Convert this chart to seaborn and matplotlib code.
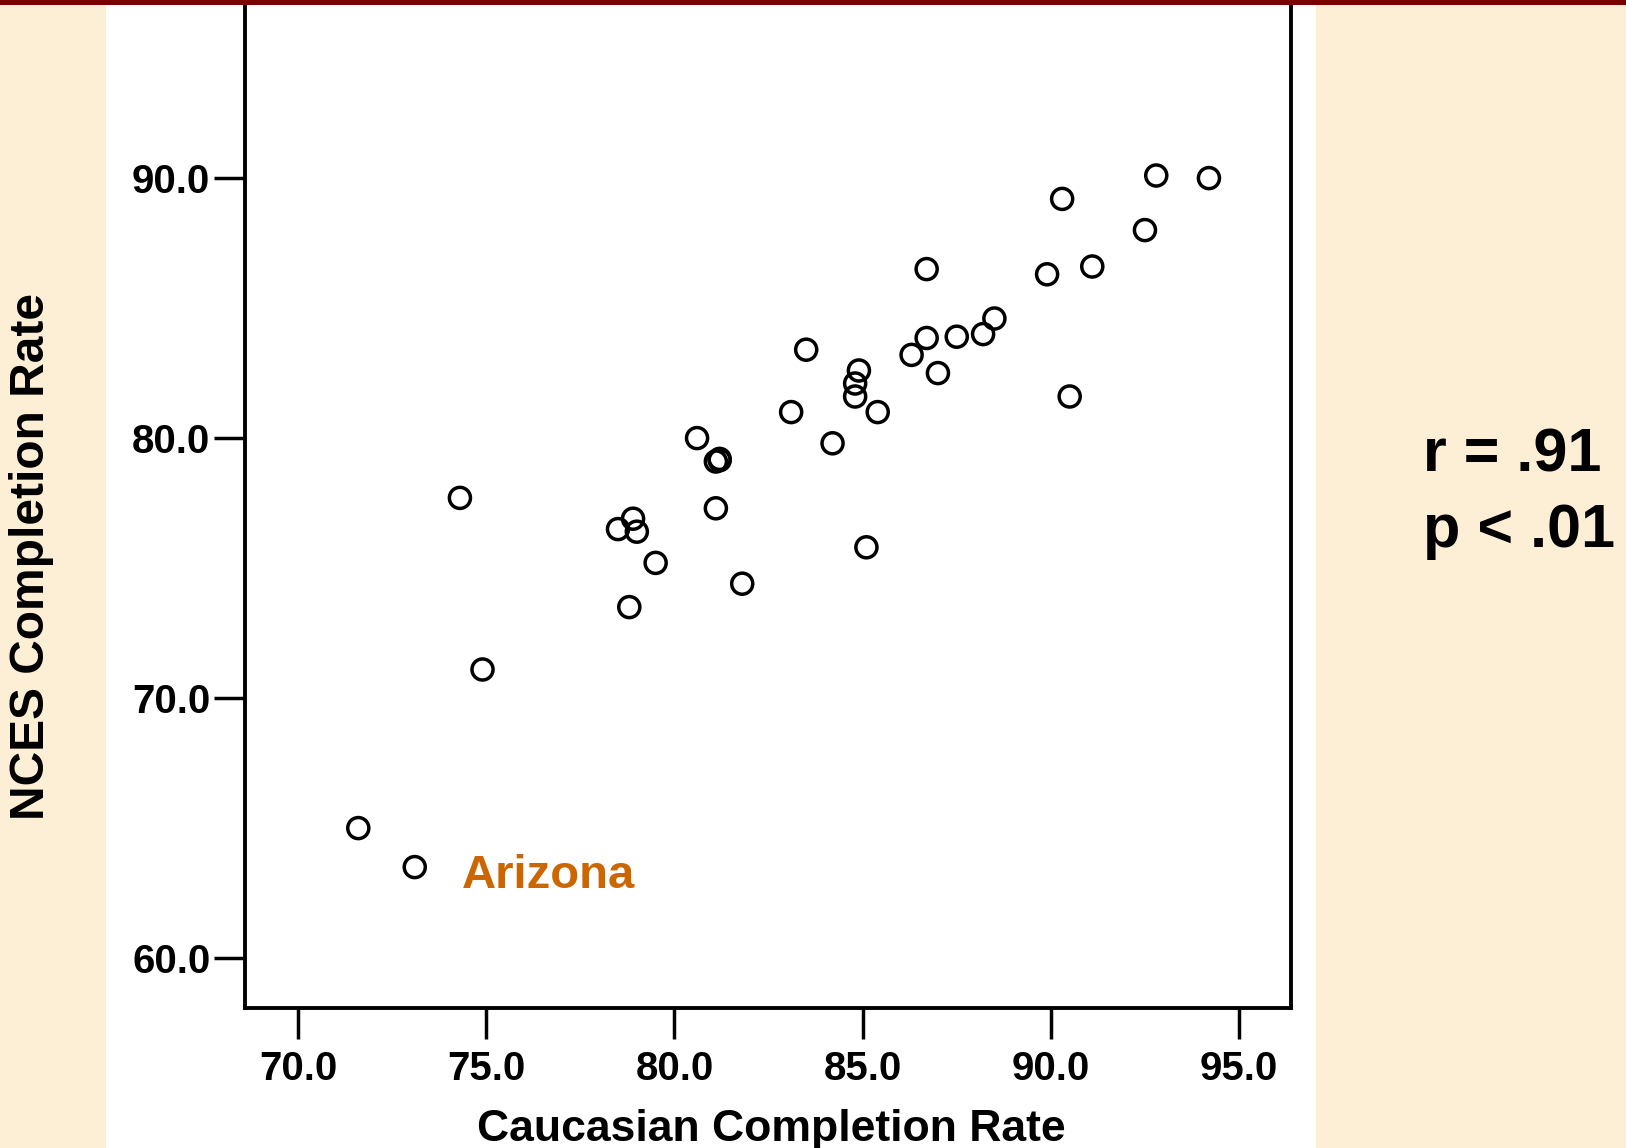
import matplotlib
matplotlib.use("Agg")
import matplotlib.pyplot as plt
from matplotlib.patches import Rectangle
import seaborn as sns
import pandas as pd

caucasian_rate = [71.6, 73.1, 74.3, 74.9, 78.5, 78.9, 79.0, 78.8, 79.5, 80.6,
                  81.1, 81.2, 81.2, 81.1, 81.8, 83.1, 83.5, 84.2, 84.9, 84.8,
                  84.8, 85.4, 85.1, 86.3, 86.7, 86.7, 87.0, 87.5, 88.2, 88.5,
                  89.9, 90.3, 90.5, 91.1, 92.5, 92.8, 94.2]
nces_rate = [65.0, 63.5, 77.7, 71.1, 76.5, 76.9, 76.4, 73.5, 75.2, 80.0,
             79.1, 79.2, 79.15, 77.3, 74.4, 81.0, 83.4, 79.8, 82.6, 82.1,
             81.6, 81.0, 75.8, 83.2, 86.5, 83.85, 82.5, 83.9, 84.0, 84.6,
             86.3, 89.2, 81.6, 86.6, 88.0, 90.1, 90.0]
x_ticks = [70.0, 75.0, 80.0, 85.0, 90.0, 95.0]
y_ticks = [60.0, 70.0, 80.0, 90.0]
x_label = "Caucasian Completion Rate"
y_label = "NCES Completion Rate"
annotation = "Arizona"
stats_text = ["r = .91", "p < .01"]

df = pd.DataFrame({"x": caucasian_rate, "y": nces_rate})

sns.set_style("white")
plt.rcParams["font.family"] = ["Liberation Sans", "DejaVu Sans"]
plt.rcParams["font.weight"] = "bold"
plt.rcParams["text.color"] = "black"
plt.rcParams["xtick.color"] = "black"
plt.rcParams["ytick.color"] = "black"

W, H = 1626, 1148
fig = plt.figure(figsize=(W / 100, H / 100), dpi=100)
fig.patch.set_facecolor("#FCEFD5")
fig.patches.append(Rectangle((106 / W, 0), (1316 - 106) / W, 1, transform=fig.transFigure,
                             facecolor="white", edgecolor="none", zorder=-5))
fig.patches.append(Rectangle((0, 1 - 5 / H), 1, 5 / H, transform=fig.transFigure,
                             facecolor="#7A0000", edgecolor="none", zorder=10))

ax = fig.add_axes([245 / W, (H - 1008) / H, (1291 - 245) / W, 1008 / H])
ax.set_facecolor("white")
sns.scatterplot(data=df, x="x", y="y", ax=ax, s=230, facecolor="none",
                edgecolor="black", linewidth=2.5, legend=False, zorder=3)

ax.set_xlim(68.59, 96.38)
ax.set_ylim(58.08, 96.85)
ax.set_xticks(x_ticks)
ax.set_yticks(y_ticks)
ax.set_xticklabels([f"{v:.1f}" for v in x_ticks], fontsize=29, fontweight="bold")
ax.set_yticklabels([f"{v:.1f}" for v in y_ticks], fontsize=29, fontweight="bold")
ax.tick_params(axis="both", direction="out", length=22, width=2.5, color="black",
               bottom=True, left=True)
ax.tick_params(axis="x", pad=8)
ax.tick_params(axis="y", pad=3)
for side in ["left", "bottom", "right"]:
    ax.spines[side].set_linewidth(2.8)
    ax.spines[side].set_color("black")
ax.spines["top"].set_visible(False)

ax.set_xlabel("")
ax.set_ylabel("")
fig.text(771 / W, 1 - 1129 / H, x_label, ha="center", va="center",
         fontsize=32, fontweight="bold")
fig.text(32 / W, 1 - 556 / H, y_label, ha="center", va="center", rotation=90,
         fontsize=34.5, fontweight="bold")

ax.text(74.35, 62.69, annotation, color="#CC6600", fontsize=34, fontweight="bold",
        ha="left", va="baseline")

fig.text(1423 / W, 1 - 472 / H, stats_text[0], ha="left", va="baseline",
         fontsize=44, fontweight="bold")
fig.text(1423 / W, 1 - 547 / H, stats_text[1], ha="left", va="baseline",
         fontsize=44, fontweight="bold")

fig.savefig("out.png", dpi=100, facecolor=fig.get_facecolor())
